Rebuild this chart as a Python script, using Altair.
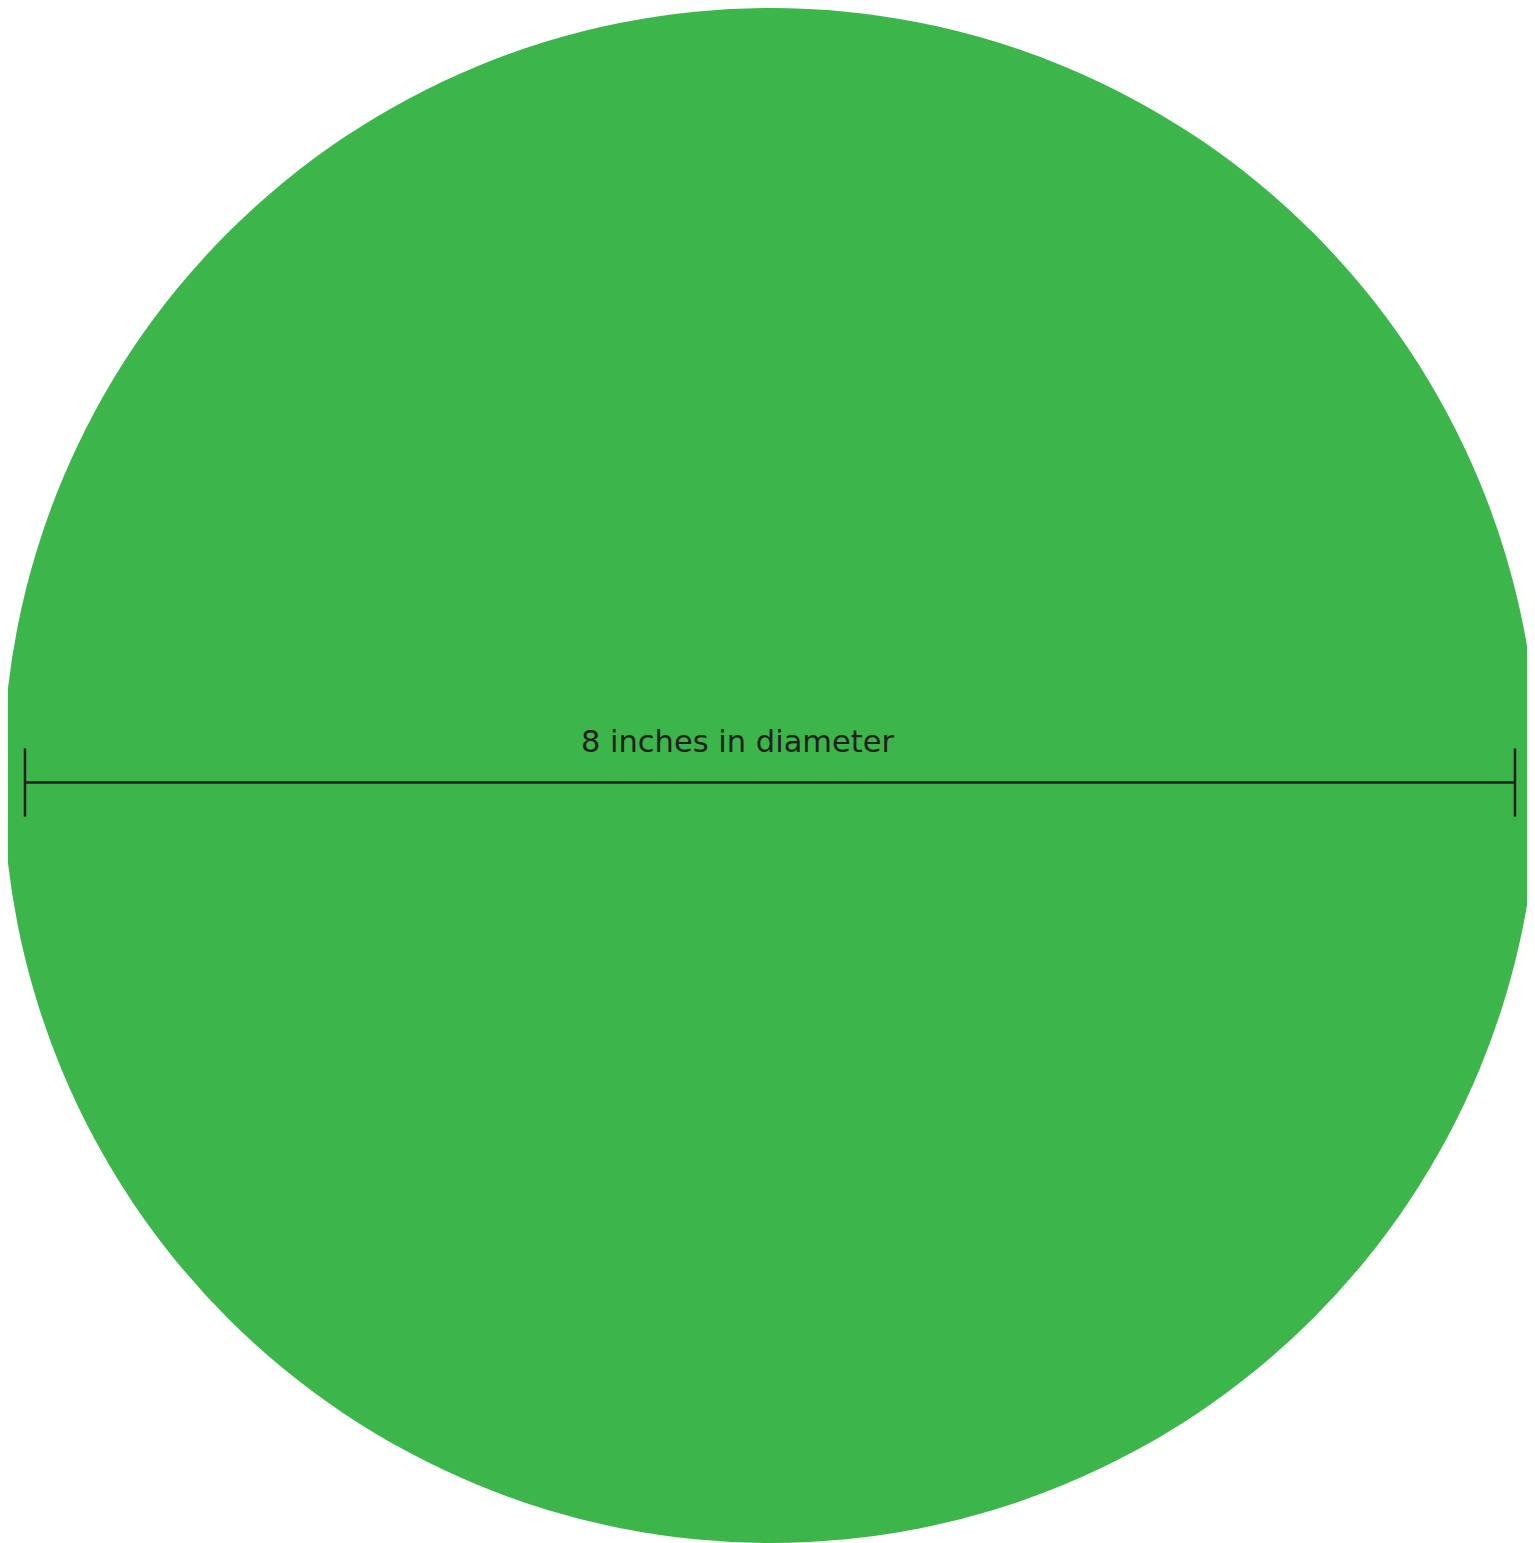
import math
import altair as alt
import pandas as pd

# --- data (inches) ---
diameter_in = 8
label_text = ["8 inches in diameter"]
line_x = [-diameter_in / 2, diameter_in / 2]
circle_share = [1]

green = "#3cb54a"
ink = "#231f20"

W, H = 1519, 1535
px_per_in = 186.25
x0_px, y0_px = 762, 774.5
x_dom = [-x0_px / px_per_in, (W - x0_px) / px_per_in]
y_dom = [-(H - y0_px) / px_per_in, y0_px / px_per_in]
xs = alt.Scale(domain=x_dom, nice=False, zero=False)
ys = alt.Scale(domain=y_dom, nice=False, zero=False)
tick_half = 0.183

circle_df = pd.DataFrame({"share": circle_share, "cx": [0.0], "cy": [0.0]})
line_df = pd.DataFrame({"x": [line_x[0]], "x2": [line_x[1]], "y": [0.0]})
ticks_df = pd.DataFrame({"x": line_x, "y": [-tick_half] * 2, "y2": [tick_half] * 2})
label_df = pd.DataFrame({"label": label_text, "x": [0.0], "y": [0.0]})

circle = alt.Chart(circle_df).mark_arc(radius=767.5, color=green, yOffset=-7, xOffset=0.5).encode(
    theta=alt.Theta("share:Q"),
    x=alt.X("cx:Q", scale=xs, axis=None),
    y=alt.Y("cy:Q", scale=ys, axis=None),
)

line = alt.Chart(line_df).mark_rule(color=ink, strokeWidth=2.5).encode(
    x=alt.X("x:Q", scale=xs, axis=None),
    x2="x2:Q",
    y=alt.Y("y:Q", scale=ys, axis=None),
)

ticks = alt.Chart(ticks_df).mark_rule(color=ink, strokeWidth=2.5).encode(
    x=alt.X("x:Q", scale=xs, axis=None),
    y=alt.Y("y:Q", scale=ys, axis=None),
    y2="y2:Q",
)

label = alt.Chart(label_df).mark_text(
    font="DejaVu Sans", fontSize=30.5, color=ink, baseline="alphabetic",
    align="center", dx=-32.5, dy=-30.5,
).encode(
    x=alt.X("x:Q", scale=xs, axis=None),
    y=alt.Y("y:Q", scale=ys, axis=None),
    text="label:N",
)

chart = alt.layer(circle, line, ticks, label).properties(
    width=W, height=H, padding=0, autosize=alt.AutoSizeParams(type="none"),
    background="white",
).configure_view(stroke=None)

chart.save("out.html", embed_options={"renderer": "svg", "actions": False})
